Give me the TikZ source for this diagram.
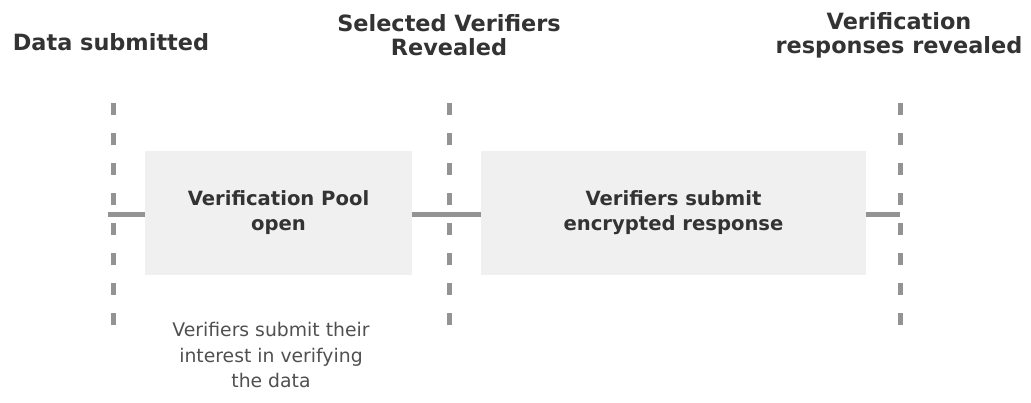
\documentclass[tikz,border=0pt]{standalone}
\usepackage{fontspec}
\setmainfont{DejaVu Sans}
\definecolor{boxgray}{HTML}{F0F0F0}
\definecolor{linegray}{HTML}{939393}
\definecolor{textdark}{HTML}{333333}
\definecolor{textsoft}{HTML}{505050}
\begin{document}
\begin{tikzpicture}[x=1pt,y=-1pt]
\tikzset{ inner sep=0pt, outer sep=0pt,
  milestone/.style={font=\bfseries\fontsize{22.4}{24}\selectfont, text=textdark, align=center},
  phase/.style={fill=boxgray, minimum height=124pt, text=textdark, align=center,
                font=\bfseries\fontsize{19.6}{25}\selectfont},
  remark/.style={font=\fontsize{18.8}{25.5}\selectfont, text=textsoft, align=center},
  marker/.style={linegray, line width=5pt, dash pattern=on 12pt off 18pt},
  link/.style={linegray, line width=5pt},
}

\useasboundingbox (0,0) rectangle (1031,402);

%\draw [lightgray, dashed](0,0) grid (1031,402);

\node [milestone] (M1) at (111,42) {Data submitted};
\node [milestone] (M2) at (449,35) {Selected Verifiers\\Revealed};
\node [milestone] (M3) at (899,35) {Verification\\responses revealed};

\coordinate (T1) at (113,103);
\coordinate (B1) at (113,325);
\coordinate (T2) at (449,103);
\coordinate (B2) at (449,325);
\coordinate (T3) at (900,103);
\coordinate (B3) at (900,325);

\draw [marker] (T1) -- (B1);
\draw [marker] (T2) -- (B2);
\draw [marker] (T3) -- (B3);

\node [phase, minimum width=267pt] (P1) at (278.5,213) {Verification Pool\\open};
\node [phase, minimum width=385pt] (P2) at (673.5,213) {Verifiers submit\\encrypted response};

\coordinate (L1) at (108,214.5);
\coordinate (L3) at (900,214.5);

\draw [link] (L1) -- (L1 -| P1.west);
\draw [link] (P1.east |- L1) -- (P2.west |- L1);
\draw [link] (P2.east |- L3) -- (L3);

\node [remark] (R1) at (271,355) {Verifiers submit their\\interest in verifying\\the data};

\end{tikzpicture}
\end{document}
